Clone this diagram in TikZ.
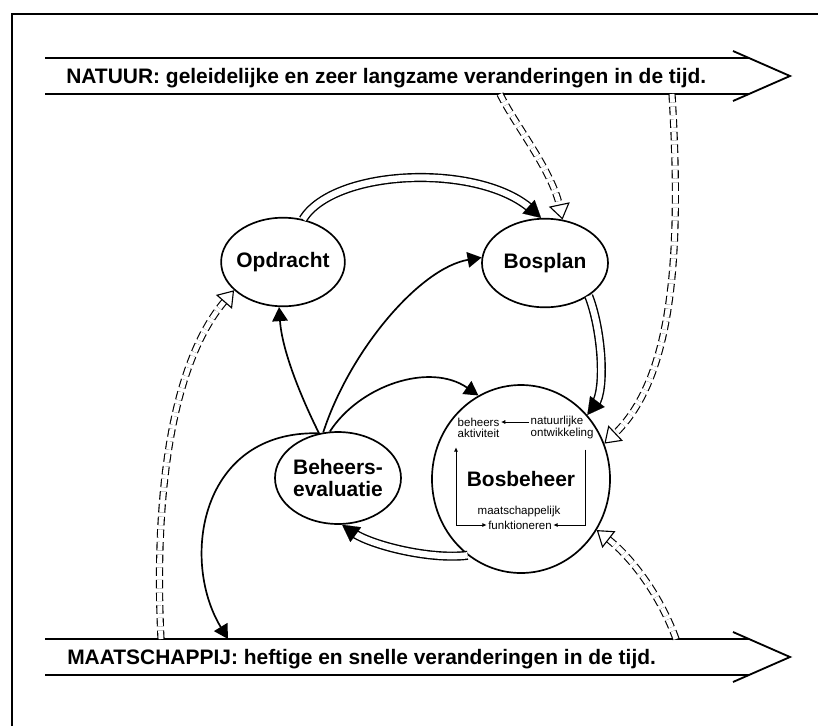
\documentclass[tikz,border=0pt]{standalone}
\usepackage{fontspec}
\setmainfont{Liberation Sans}
\usetikzlibrary{arrows.meta,shapes.geometric}

\begin{document}
\begin{tikzpicture}[x=0.025cm,y=-0.025cm,
  blob/.style={draw,ellipse,line width=1.2pt,inner sep=0pt,inner xsep=-4pt,
    minimum width=88pt,minimum height=63pt,align=center,
    font=\bfseries\fontsize{14.9}{15}\selectfont},
  band/.style={line width=1.3pt},
  bandtext/.style={anchor=base west,inner sep=0pt,font=\bfseries\fontsize{14.9}{15}\selectfont},
  small/.style={inner sep=1pt,font=\fontsize{8.2}{8}\selectfont},
  link/.style={line width=1.2pt,-{Triangle[length=10pt,width=11pt]}},
  tiny/.style={line width=0.6pt,>={Latex[length=3pt,width=3pt]},->},
  tube/.style={white,line width=0.1pt,-{Triangle[color=black,length=12pt,width=13pt]},
    preaction={draw=black,-,line width=1pt,double=white,double distance=4.5pt,shorten >=9pt}},
  influx/.style={white,line width=0.1pt,
    -{Triangle[color=black,fill=white,length=11pt,width=15pt,line width=0.8pt]},
    preaction={draw=black,-,line width=0.8pt,dash pattern=on 6pt off 3pt,
      double=white,double distance=3.5pt,shorten >=9pt}}]
  \useasboundingbox (0,0) rectangle (818,726);
  \draw[line width=1pt] (12,726) -- (12,14) -- (818,14);

  \draw[band] (45,58) -- (749,58) (45,94) -- (749,94)
    (733,51) -- (790,76) -- (733,101);
  \draw[band] (45,639) -- (749,639) (45,675) -- (749,675)
    (733,632) -- (790,657) -- (733,682);
  \node[bandtext] (natuur) at (66,83.5)
    {NATUUR: geleidelijke en zeer langzame veranderingen in de tijd.};
  \node[bandtext] (maatschappij) at (67,664.5)
    {MAATSCHAPPIJ: heftige en snelle veranderingen in de tijd.};
  \coordinate (n1) at (500,94);
  \coordinate (n2) at (672,94);
  \coordinate (m1) at (161,639);
  \coordinate (m2) at (676,639);
  \coordinate (m3) at (228,639);

  \node[blob] (opdracht) at (283,262) {Opdracht};
  \node[blob,minimum width=89.6pt] (bosplan) at (545,263) {Bosplan};
  \node[blob,minimum width=89.6pt,minimum height=65.4pt] (evaluatie) at (338,478)
    {Beheers-\\evaluatie};
  \node[blob,minimum width=126.6pt,minimum height=133.7pt] (bosbeheer) at (521,479)
    {Bosbeheer};

  \node[small,anchor=west] (beh) at (456,422) {beheers};
  \node[small,anchor=west] (akt) at (456,433) {aktiviteit};
  \node[small,anchor=west] (nat) at (529,422) {natuurlijke};
  \node[small,anchor=west] (ont) at (529,434) {ontwikkeling};
  \node[small] (maat) at (519,512) {maatschappelijk};
  \node[small] (funk) at (520,525) {funktioneren};
  \draw[tiny] (nat) -- (beh);
  \draw[tiny,<->] ([yshift=-6pt]akt.south west) |- (funk);
  \draw[tiny] ([xshift=-7pt,yshift=-6pt]ont.south east) |- (funk);

  \draw[tube] (opdracht.65) .. controls (335,168) and (480,163) .. (bosplan.95);
  \draw[tube] (bosplan.-37) .. controls (602,330) and (606,390) .. (bosbeheer.44);
  \draw[tube] (bosbeheer.235) .. controls (430,560) and (370,545) .. (evaluatie.275);

  \draw[link] (evaluatie.113) .. controls (300,395) and (282,350) .. (opdracht.265);
  \draw[link] (evaluatie.108) .. controls (350,350) and (420,268) .. (bosplan.175);
  \draw[link] (evaluatie.100) .. controls (360,385) and (430,362) .. (bosbeheer.117);
  \draw[link] (evaluatie.113) .. controls (200,430) and (180,560) .. (m3);

  \draw[influx] (n1) .. controls (515,125) and (552,170) .. (bosplan.68);
  \draw[influx] (n2) .. controls (682,260) and (672,380) .. (bosbeheer.23);
  \draw[influx] (m2) .. controls (662,600) and (635,560) .. (bosbeheer.-34);
  \draw[influx] (m1) .. controls (155,520) and (165,370) .. (opdracht.210);
\end{tikzpicture}
\end{document}
